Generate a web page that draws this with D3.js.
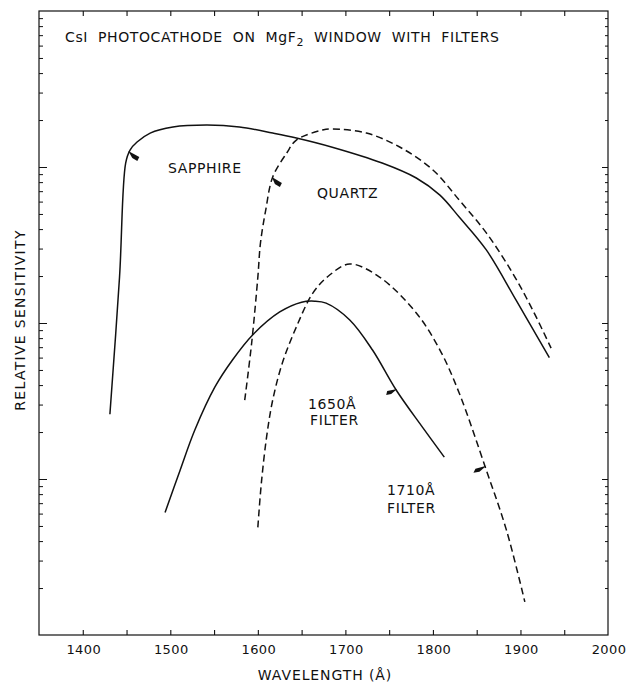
<!DOCTYPE html>
<html>
<head>
<meta charset="utf-8">
<script src="https://cdn.jsdelivr.net/npm/d3@7"></script>
<style>
  html, body { margin: 0; padding: 0; background: #fff; }
  svg { display: block; }
  text { font-family: "DejaVu Sans", "Liberation Sans", sans-serif; fill: #111; }
</style>
</head>
<body>
<svg id="chart" width="626" height="688"></svg>
<script>
// Relative sensitivity (log units) versus wavelength in angstroms
const sapphire = [
  [1431, 26], [1442, 197], [1449, 1060], [1454, 1285], [1462, 1445],
  [1477, 1650], [1503, 1805], [1542, 1858], [1579, 1805], [1617, 1650],
  [1644, 1535], [1685, 1340], [1742, 1060], [1781, 850], [1808, 660],
  [1830, 478], [1861, 294], [1895, 140], [1933, 60]
];
const quartz = [
  [1585, 32], [1593, 75], [1600, 197], [1603, 326], [1609, 530],
  [1617, 863], [1633, 1230], [1644, 1489], [1674, 1727], [1685, 1754],
  [1724, 1651], [1762, 1343], [1800, 957], [1830, 614], [1861, 378],
  [1891, 209], [1914, 121], [1935, 69]
];
const filter1650 = [
  [1494, 6.1], [1511, 11.3], [1528, 20.6], [1551, 38.9], [1571, 57.9],
  [1594, 83.8], [1625, 117.7], [1650, 136], [1665, 138], [1678, 134],
  [1705, 104.5], [1731, 67.1], [1758, 37.2], [1788, 21.5], [1813, 13.8]
];
const filter1710 = [
  [1600, 4.9], [1604, 9.4], [1610, 18.6], [1617, 32.1], [1628, 55.4],
  [1644, 94.3], [1663, 156], [1682, 203], [1705, 239], [1739, 197],
  [1781, 116], [1808, 67.1], [1830, 35.6], [1861, 11.4], [1884, 4.7],
  [1905, 1.63]
];

const xTickLabels = [1400, 1500, 1600, 1700, 1800, 1900, 2000];
const xMinorTicks = [1400, 1450, 1500, 1550, 1600, 1650, 1700, 1750, 1800, 1850, 1900, 1950];

// Label pointers: [wavelength, sensitivity] on each curve
const pointerSapphire = [1452, 1250];
const pointerQuartz = [1616, 850];
const pointer1650 = [1758, 37.2];
const pointer1710 = [1860, 11.8];

const svg = d3.select("#chart");
const W = 626, H = 688;
const plotLeft = 39, plotRight = 608, plotTop = 11, plotBottom = 635;

svg.append("rect").attr("width", W).attr("height", H).attr("fill", "#fff");

const x = d3.scaleLinear().domain([1350, 2000]).range([plotLeft, plotRight]);
const y = d3.scaleLog().domain([1, 1e4]).range([plotBottom, plotTop]);

const ink = "#111";

// Frame
svg.append("rect")
  .attr("x", plotLeft).attr("y", plotTop)
  .attr("width", plotRight - plotLeft).attr("height", plotBottom - plotTop)
  .attr("fill", "none").attr("stroke", ink).attr("stroke-width", 1.2);

// Bottom axis: inward ticks every 50 A, labels every 100 A
const bottomAxis = d3.axisBottom(x).tickValues(xMinorTicks).tickSizeInner(-5).tickSizeOuter(0).tickFormat("");
const gB = svg.append("g").attr("transform", `translate(0,${plotBottom})`).call(bottomAxis);
gB.select(".domain").remove();
gB.selectAll("line").attr("stroke", ink).attr("stroke-width", 1.1);

svg.append("g").selectAll("text").data(xTickLabels).join("text")
  .attr("x", d => x(d) + 1).attr("y", 654)
  .attr("text-anchor", "middle").attr("font-size", 13).attr("letter-spacing", 0.4)
  .text(d => d);

// Top axis: inward ticks
const topAxis = d3.axisTop(x).tickValues(xMinorTicks).tickSizeInner(-5).tickSizeOuter(0).tickFormat("");
const gT = svg.append("g").attr("transform", `translate(0,${plotTop})`).call(topAxis);
gT.select(".domain").remove();
gT.selectAll("line").attr("stroke", ink).attr("stroke-width", 1.1);

// Log ticks on left and right
const logTicks = y.ticks().filter(v => v > 1 && v < 1e4);
const isMajor = v => Math.abs(Math.log10(v) - Math.round(Math.log10(v))) < 1e-9;
const leftAxis = d3.axisLeft(y).tickValues(logTicks).tickSizeOuter(0).tickFormat("");
const gL = svg.append("g").attr("transform", `translate(${plotLeft},0)`).call(leftAxis);
gL.select(".domain").remove();
gL.selectAll("line").attr("x2", d => isMajor(d) ? 8 : 4).attr("stroke", ink).attr("stroke-width", 1);

const rightAxis = d3.axisRight(y).tickValues(logTicks).tickSizeOuter(0).tickFormat("");
const gR = svg.append("g").attr("transform", `translate(${plotRight},0)`).call(rightAxis);
gR.select(".domain").remove();
gR.selectAll("line").attr("x2", d => isMajor(d) ? -6 : -3).attr("stroke", ink).attr("stroke-width", 1);

// Curves
const line = d3.line()
  .x(d => x(d[0])).y(d => y(d[1]))
  .curve(d3.curveCatmullRom.alpha(0.5));

const curves = [
  { data: sapphire, dash: null },
  { data: quartz, dash: "7,4" },
  { data: filter1650, dash: null },
  { data: filter1710, dash: "7,4" }
];
svg.append("g").selectAll("path").data(curves).join("path")
  .attr("d", d => line(d.data))
  .attr("fill", "none").attr("stroke", ink).attr("stroke-width", 1.5)
  .attr("stroke-dasharray", d => d.dash);

// Small wedge pointers from curves toward labels
function wedge(p, shape) {
  const px = x(p[0]), py = y(p[1]);
  svg.append("path")
    .attr("d", d3.line()(shape.map(s => [px + s[0], py + s[1]])) + "Z")
    .attr("fill", ink);
}
wedge(pointerSapphire, [[0, -1], [11, 5], [9, 9], [4, 6]]);
wedge(pointerQuartz, [[0, -1], [10, 5], [8, 9], [3, 6]]);
wedge(pointer1650, [[1, -1], [-9, 1], [-10, 5], [-5, 4]]);
wedge(pointer1710, [[1, -2], [-10, 1], [-12, 5], [-6, 4]]);

// Curve labels
const labels = [
  { t: "SAPPHIRE", x: 168, y: 173 },
  { t: "QUARTZ", x: 317, y: 198 },
  { t: "1650Å", x: 308, y: 409 },
  { t: "FILTER", x: 310, y: 425 },
  { t: "1710Å", x: 387, y: 495 },
  { t: "FILTER", x: 387, y: 513 }
];
svg.append("g").selectAll("text").data(labels).join("text")
  .attr("x", d => d.x).attr("y", d => d.y)
  .attr("font-size", 14).attr("letter-spacing", 0.6)
  .text(d => d.t);

// Title
const title = svg.append("text").attr("x", 65).attr("y", 42).attr("font-size", 14)
  .attr("letter-spacing", 0.6).attr("word-spacing", 5);
title.append("tspan").text("CsI PHOTOCATHODE ON MgF");
title.append("tspan").attr("font-size", 11).attr("dy", 4).text("2");
title.append("tspan").attr("dy", -4).text(" WINDOW WITH FILTERS");

// Axis titles
svg.append("text")
  .attr("transform", "translate(25,320) rotate(-90)")
  .attr("text-anchor", "middle").attr("font-size", 14).attr("letter-spacing", 1.3)
  .text("RELATIVE SENSITIVITY");

svg.append("text")
  .attr("x", 325).attr("y", 680)
  .attr("text-anchor", "middle").attr("font-size", 14).attr("letter-spacing", 0.9)
  .text("WAVELENGTH (Å)");
</script>
</body>
</html>
